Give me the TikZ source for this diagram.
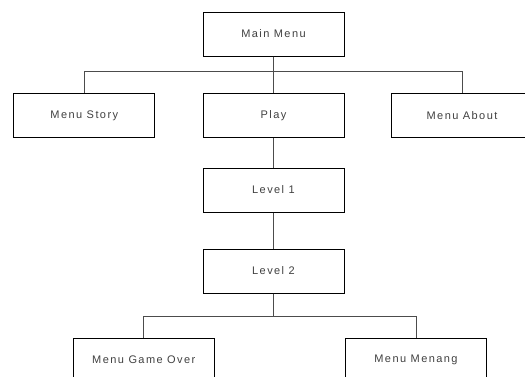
\documentclass[tikz,border=0pt]{standalone}
\usepackage{fontspec}
\setmainfont{Liberation Sans}[LetterSpace=13]
\usepackage{tikz}

\tikzset{
  menubox/.style={draw=black, line width=1pt, minimum width=141pt, minimum height=44pt,
    inner sep=0pt, text=black!75, font=\fontsize{11}{13}\selectfont},
  link/.style={draw=black!70, line width=1pt}
}

\begin{document}
\begin{tikzpicture}[x=1pt,y=-1pt]
    \useasboundingbox (0,0) rectangle (525,376);
    \clip (0,0) rectangle (525,376);

    \node[menubox] (mainmenu)  at (273.5,34)  {Main Menu};
    \node[menubox] (story)     at (84.3,115.5) {Menu Story};
    \node[menubox] (play)      at (273.5,115.5) {Play};
    \node[menubox] (about)     at (462,115.5) {Menu About};
    \node[menubox] (levelone)  at (273.5,190) {Level 1};
    \node[menubox] (leveltwo)  at (273.5,271) {Level 2};
    \node[menubox] (gameover)  at (143.8,360) {Menu Game Over};
    \node[menubox] (menang)    at (416,360) {Menu Menang};

    \coordinate (bustop) at (0,71);% Bus under the main menu
    \coordinate (busbot) at (0,316);% Bus under level 2

    \draw[link] (mainmenu.south) -- (mainmenu.south |- bustop) -| (story.north);
    \draw[link] (mainmenu.south) -- (mainmenu.south |- bustop) -| (about.north);
    \draw[link] (mainmenu) -- (play);
    \draw[link] (play) -- (levelone);
    \draw[link] (levelone) -- (leveltwo);
    \draw[link] (leveltwo.south) -- (leveltwo.south |- busbot) -| (gameover.north);
    \draw[link] (leveltwo.south) -- (leveltwo.south |- busbot) -| (menang.north);
\end{tikzpicture}
\end{document}
